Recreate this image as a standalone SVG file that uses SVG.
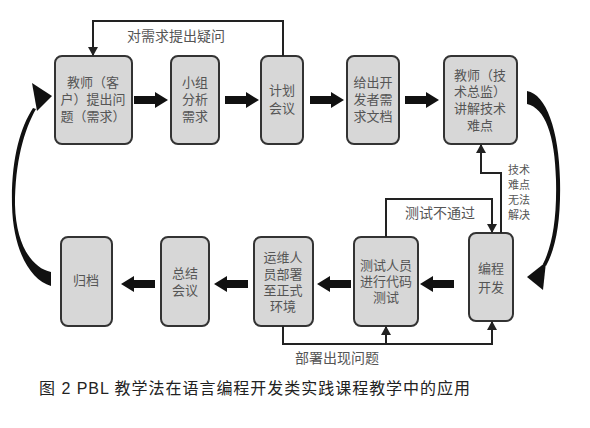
<svg xmlns="http://www.w3.org/2000/svg" width="590" height="428" viewBox="0 0 590 428">
<style>
.box{fill:#d7d7d7;stroke:#333;stroke-width:2}
.t{font-family:"Liberation Sans","Noto Sans CJK SC",sans-serif;font-size:13px;fill:#555;text-anchor:middle}
.s{font-family:"Liberation Sans","Noto Sans CJK SC",sans-serif;font-size:11px;fill:#555;text-anchor:middle}
.lab{font-family:"Liberation Sans","Noto Sans CJK SC",sans-serif;font-size:14px;fill:#555}
.ln{fill:none;stroke:#222;stroke-width:2;marker-end:url(#ah)}
.blk{fill:#111}
</style>
<defs>
<marker id="ah" markerWidth="10" markerHeight="10" refX="8" refY="5" orient="auto" markerUnits="userSpaceOnUse">
<path d="M0,0 L9,5 L0,10 Z" fill="#222"/>
</marker>
<path id="ba" d="M0,-4 L21,-4 L21,-8 L34,0 L21,8 L21,4 L0,4 Z"/>
</defs>
<rect width="590" height="428" fill="#fff"/>
<g id="n1"><rect class="box" x="55" y="56" width="77" height="88" rx="7"/>
<text class="t"><tspan x="93" y="87">教师（客</tspan><tspan x="93" y="104">户）提出问</tspan><tspan x="93" y="121">题（需求）</tspan></text></g>
<g id="n2"><rect class="box" x="171" y="56" width="48" height="88" rx="7"/>
<text class="t"><tspan x="195" y="87">小组</tspan><tspan x="195" y="104">分析</tspan><tspan x="195" y="121">需求</tspan></text></g>
<g id="n3"><rect class="box" x="261" y="56" width="42" height="88" rx="7"/>
<text class="t"><tspan x="282" y="95">计划</tspan><tspan x="282" y="113">会议</tspan></text></g>
<g id="n4"><rect class="box" x="347" y="56" width="52" height="88" rx="7"/>
<text class="t"><tspan x="373" y="87">给出开</tspan><tspan x="373" y="104">发者需</tspan><tspan x="373" y="121">求文档</tspan></text></g>
<g id="n5"><rect class="box" x="444" y="56" width="73" height="88" rx="7"/>
<text class="t"><tspan x="480" y="80">教师（技</tspan><tspan x="480" y="96">术总监）</tspan><tspan x="480" y="113">讲解技术</tspan><tspan x="480" y="130">难点</tspan></text></g>
<g id="n6"><rect class="box" x="61" y="237" width="51" height="89" rx="7"/>
<text class="t" x="86" y="285">归档</text></g>
<g id="n7"><rect class="box" x="161" y="237" width="48" height="89" rx="7"/>
<text class="t"><tspan x="185" y="278">总结</tspan><tspan x="185" y="295">会议</tspan></text></g>
<g id="n8"><rect class="box" x="254" y="237" width="59" height="89" rx="7"/>
<text class="t"><tspan x="283" y="262">运维人</tspan><tspan x="283" y="279">员部署</tspan><tspan x="283" y="295">至正式</tspan><tspan x="283" y="311">环境</tspan></text></g>
<g id="n9"><rect class="box" x="354" y="237" width="64" height="89" rx="7"/>
<text class="t"><tspan x="386" y="270">测试人员</tspan><tspan x="386" y="286">进行代码</tspan><tspan x="386" y="302">测试</tspan></text></g>
<g id="n10"><rect class="box" x="469" y="233" width="44" height="88" rx="7"/>
<text class="t"><tspan x="491" y="273">编程</tspan><tspan x="491" y="292">开发</tspan></text></g>
<g id="connectors">
<use href="#ba" class="blk" transform="translate(134,100)"/>
<use href="#ba" class="blk" transform="translate(225,100)"/>
<use href="#ba" class="blk" transform="translate(310,100)"/>
<use href="#ba" class="blk" transform="translate(405,100)"/>
<use href="#ba" class="blk" transform="translate(454,284) scale(-1,1)"/>
<use href="#ba" class="blk" transform="translate(351,284) scale(-1,1)"/>
<use href="#ba" class="blk" transform="translate(248,284) scale(-1,1)"/>
<use href="#ba" class="blk" transform="translate(155,284) scale(-1,1)"/>
<path class="ln" d="M283,56 V21 H93 V55"/>
<path class="ln" d="M386,237 V199 H492 V232"/>
<path class="ln" d="M501,233 V173 H481 V145"/>
<path class="ln" d="M283,326 V344 H492 V322"/>
<path class="ln" d="M386,344 V327"/>
<path class="blk" d="M51,286 C30,280 13,250 12,205 C11,160 20,128 33,108 L36,109 C24,130 15,162 15,205 C16,245 32,268 51,272 Z"/>
<path class="blk" d="M52,96 L32,83 L37,111 Z"/>
<path class="blk" d="M527,91 C546,94 559,130 560,180 C561,220 556,248 546,266 L543,264 C552,246 557,220 556,180 C555,135 545,108 527,104 Z"/>
<path class="blk" d="M527,277 L546,262 L543,290 Z"/>
<text class="lab" x="127" y="41">对需求提出疑问</text>
<text class="lab" x="405" y="218">测试不通过</text>
<text class="lab" x="295" y="363">部署出现问题</text>
<text class="s"><tspan x="519" y="174">技术</tspan><tspan x="519" y="189">难点</tspan><tspan x="519" y="204">无法</tspan><tspan x="519" y="219">解决</tspan></text>
</g>
<text x="39" y="394" font-family="'Liberation Sans','Noto Sans CJK SC',sans-serif" font-size="16" fill="#222" textLength="431">图 2 PBL 教学法在语言编程开发类实践课程教学中的应用</text>
</svg>
